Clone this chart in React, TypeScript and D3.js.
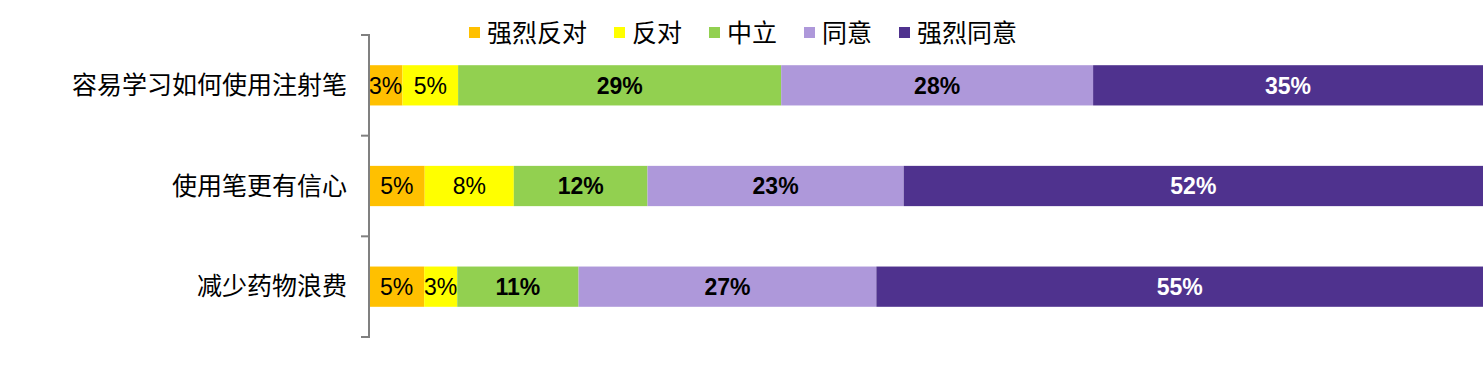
import React from 'react';
import * as d3 from 'd3';

const categories = ['容易学习如何使用注射笔', '使用笔更有信心', '减少药物浪费'];
const seriesNames = ['强烈反对', '反对', '中立', '同意', '强烈同意'];
const stronglyDisagree = [3, 5, 5];
const disagree = [5, 8, 3];
const neutral = [29, 12, 11];
const agree = [28, 23, 27];
const stronglyAgree = [35, 52, 55];
const colors = ['#FFC000', '#FFFF00', '#92D050', '#AE98DA', '#4F328E'];

const W = 1483;
const H = 368;
const cjk = '"Noto Sans CJK SC", "Noto Sans", sans-serif';
const latin = '"Liberation Sans", Arial, sans-serif';

export default function App() {
  const allSeries = [stronglyDisagree, disagree, neutral, agree, stronglyAgree];
  const rows = categories.map((c, i) => {
    const r: any = { cat: c };
    seriesNames.forEach((s, j) => (r[s] = allSeries[j][i]));
    return r;
  });

  // 100% stacked, each row scaled to its own total
  const stacked = d3.stack().keys(seriesNames).offset(d3.stackOffsetExpand)(rows);

  const x = d3.scaleLinear().domain([0, 1]).range([369, 1483]);
  const y = d3.scaleBand().domain(categories).range([35, 337]).paddingInner(0.6).paddingOuter(0.3);

  const half = (y.step() * y.paddingInner()) / 2;
  const ticks = categories.map((c) => y(c)! - half).concat([y(categories[categories.length - 1])! + y.bandwidth() + half]);

  // legend layout
  let lx = 469;
  const legend = seriesNames.map((s, i) => {
    const item = { s, x: lx, color: colors[i] };
    lx += 18 + s.length * 25 + 27;
    return item;
  });

  return (
    <svg width={W} height={H} style={{ position: 'absolute', left: 0, top: 0, background: '#fff' }}>
      {stacked.map((layer, j) => (
        <g key={layer.key}>
          {layer.map((d, i) => {
            const x0 = x(d[0]);
            const x1 = x(d[1]);
            const cy = y(categories[i])! + y.bandwidth() / 2;
            return (
              <g key={i}>
                <rect x={x0} y={y(categories[i])} width={x1 - x0} height={y.bandwidth()} fill={colors[j]} />
                <text
                  x={(x0 + x1) / 2}
                  y={cy}
                  dy="0.36em"
                  textAnchor="middle"
                  fontFamily={latin}
                  fontSize={23}
                  fontWeight={j >= 2 ? 'bold' : 'normal'}
                  fill={j === 4 ? '#fff' : '#000'}
                >
                  {allSeries[j][i] + '%'}
                </text>
              </g>
            );
          })}
        </g>
      ))}

      {/* axis */}
      <line x1={369} x2={369} y1={ticks[0]} y2={ticks[ticks.length - 1]} stroke="#808080" strokeWidth={2} />
      {ticks.map((t, i) => (
        <line key={i} x1={361} x2={370} y1={t} y2={t} stroke="#808080" strokeWidth={2} />
      ))}
      {categories.map((c) => (
        <text
          key={c}
          x={347}
          y={y(c)! + y.bandwidth() / 2}
          dy="0.35em"
          textAnchor="end"
          fontFamily={cjk}
          fontSize={25}
          fill="#000"
        >
          {c}
        </text>
      ))}

      {legend.map((l) => (
        <g key={l.s}>
          <rect x={l.x} y={27} width={11} height={11} fill={l.color} />
          <text x={l.x + 18} y={33} dy="0.35em" fontFamily={cjk} fontSize={25} fill="#000">
            {l.s}
          </text>
        </g>
      ))}
    </svg>
  );
}
